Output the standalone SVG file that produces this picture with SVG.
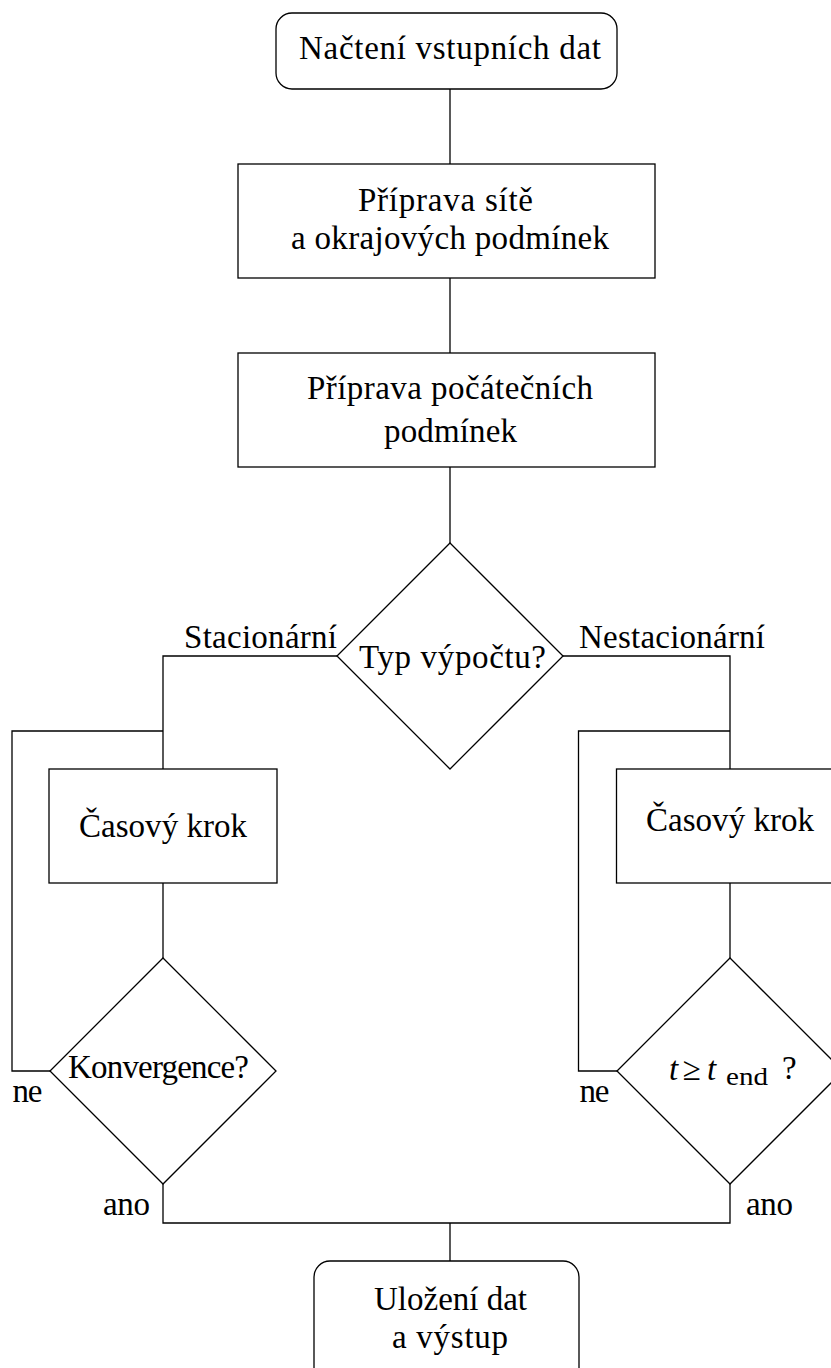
<svg xmlns="http://www.w3.org/2000/svg" width="831" height="1368" viewBox="0 0 831 1368">
<style>
.shape{fill:#fff;stroke:#000;stroke-width:1.3}
.conn{fill:none;stroke:#000;stroke-width:1.3}
text{font-family:'Liberation Serif','Tinos','Times New Roman',Times,'Noto Serif','DejaVu Serif',serif;font-size:33px;fill:#000}
.m{font-style:italic}
</style>
<rect width="831" height="1368" fill="#fff"/>
<g id="connectors" class="conn">
<line x1="450" y1="89" x2="450" y2="164"/>
<line x1="450" y1="278" x2="450" y2="353"/>
<line x1="450" y1="467" x2="450" y2="543"/>
<polyline points="337,656 163,656 163,769"/>
<polyline points="563,656 730,656 730,769"/>
<line x1="163" y1="883" x2="163" y2="958"/>
<line x1="730" y1="883" x2="730" y2="958"/>
<polyline points="50,1071 12,1071 12,731 163,731"/>
<polyline points="617,1071 578.5,1071 578.5,731 730,731"/>
<polyline points="163,1184 163,1223 730,1223 730,1184"/>
<line x1="450" y1="1223" x2="450" y2="1261"/>
</g>
<g id="n_start">
<rect class="shape" x="276" y="13" width="341" height="76" rx="16"/>
<text x="299" y="59" textLength="302" lengthAdjust="spacing">Načtení vstupních dat</text>
</g>
<g id="n_mesh">
<rect class="shape" x="238" y="164" width="417" height="114"/>
<text x="358" y="211" textLength="175" lengthAdjust="spacing">Příprava sítě</text>
<text x="291" y="249" textLength="318" lengthAdjust="spacing">a okrajových podmínek</text>
</g>
<g id="n_init">
<rect class="shape" x="238" y="353" width="417" height="114"/>
<text x="307" y="399" textLength="286" lengthAdjust="spacing">Příprava počátečních</text>
<text x="384" y="441.5" textLength="133" lengthAdjust="spacing">podmínek</text>
</g>
<g id="n_type">
<polygon class="shape" points="450,543 563,656 450,769 337,656"/>
<text x="359" y="668" textLength="187" lengthAdjust="spacing">Typ výpočtu?</text>
</g>
<g id="lbl_branches">
<text x="184" y="648" textLength="153" lengthAdjust="spacing">Stacionární</text>
<text x="579" y="648" textLength="186" lengthAdjust="spacing">Nestacionární</text>
</g>
<g id="n_step_left">
<rect class="shape" x="49" y="769" width="228" height="114"/>
<text x="79" y="837" textLength="168" lengthAdjust="spacing">Časový krok</text>
</g>
<g id="n_step_right">
<rect class="shape" x="616.5" y="769" width="228" height="114"/>
<text x="646" y="831" textLength="168" lengthAdjust="spacing">Časový krok</text>
</g>
<g id="n_conv">
<polygon class="shape" points="163,958 276,1071 163,1184 50,1071"/>
<text x="68" y="1078" textLength="181" lengthAdjust="spacing">Konvergence?</text>
</g>
<g id="n_time">
<polygon class="shape" points="730,958 843,1071 730,1184 617,1071"/>
<text class="m" x="669" y="1080">t</text>
<text x="691.5" y="1080" text-anchor="middle">≥</text>
<text class="m" x="707" y="1080">t</text>
<text x="726" y="1085" style="font-size:26px" textLength="42" lengthAdjust="spacingAndGlyphs">end</text>
<text x="782" y="1079">?</text>
</g>
<g id="lbl_loops">
<text x="12.5" y="1101.5" textLength="30" lengthAdjust="spacing">ne</text>
<text x="579.5" y="1101.5" textLength="30" lengthAdjust="spacing">ne</text>
<text x="103" y="1215" textLength="47" lengthAdjust="spacing">ano</text>
<text x="746" y="1215" textLength="47" lengthAdjust="spacing">ano</text>
</g>
<g id="n_end">
<rect class="shape" x="314" y="1261" width="265" height="130" rx="16"/>
<text x="374" y="1310" textLength="153" lengthAdjust="spacing">Uložení dat</text>
<text x="392" y="1348" textLength="116" lengthAdjust="spacing">a výstup</text>
</g>
</svg>
